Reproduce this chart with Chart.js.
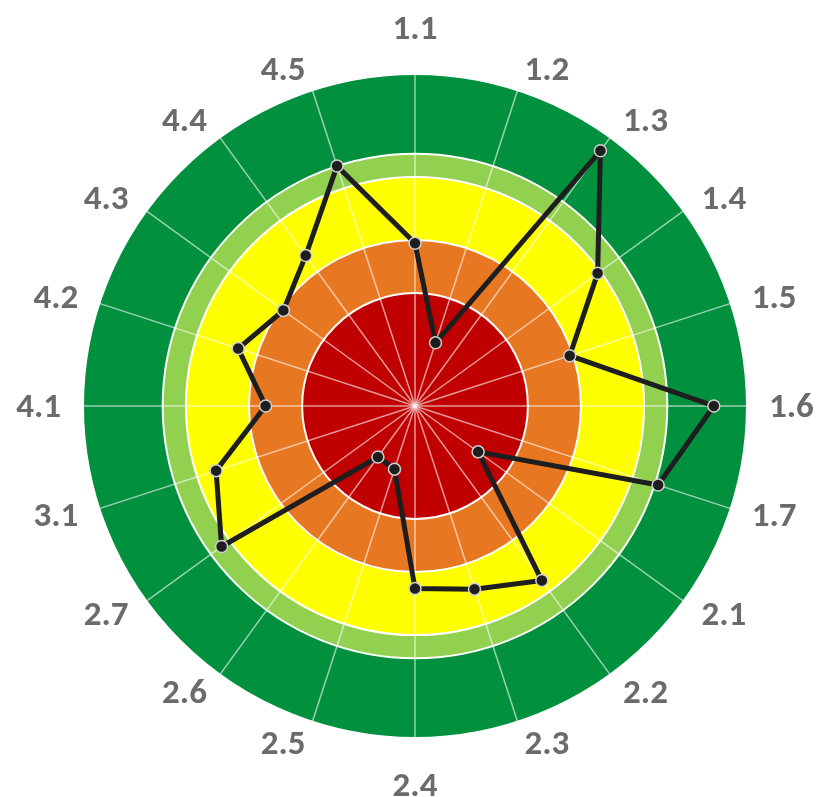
<!DOCTYPE html>
<html>
<head>
<meta charset="utf-8">
<script src="https://cdn.jsdelivr.net/npm/chart.js@4/dist/chart.umd.min.js"></script>
<style>
  html, body { margin: 0; padding: 0; background: #fff; }
  #wrap { width: 819px; height: 797px; }
</style>
</head>
<body>
<div id="wrap"><canvas id="myChart"></canvas></div>
<script>
const CATEGORIES = [
  '1.1', '1.2', '1.3', '1.4', '1.5', '1.6', '1.7',
  '2.1', '2.2', '2.3', '2.4', '2.5', '2.6', '2.7',
  '3.1',
  '4.1', '4.2', '4.3', '4.4', '4.5'
];
const SCORES = [
  49, 20, 95, 68, 49, 90, 77,
  23.5, 65, 58, 55, 20, 19, 72,
  63,
  45, 56, 49, 56, 76
];
// upper limit of each coloured ring
const BAND_LIMITS = [34, 50, 69, 76, 100];

const COLORS = {
  bands: ['#c00000', '#e87722', '#ffff00', '#92d050', '#00903e'],
  line: '#1e1e1e',
  label: '#6b6b6b'
};
const LABEL_SIZE = 35;

const bandsPlugin = {
  id: 'bands',
  beforeDraw(chart) {
    const scale = chart.scales.r;
    const c = chart.ctx;
    c.save();
    for (let i = BAND_LIMITS.length - 1; i >= 0; i--) {
      c.beginPath();
      c.arc(scale.xCenter, scale.yCenter, scale.getDistanceFromCenterForValue(BAND_LIMITS[i]), 0, Math.PI * 2);
      c.fillStyle = COLORS.bands[i];
      c.fill();
    }
    c.restore();
  }
};

// excel style labels: beside the spoke end, vertically centred (top/bottom ones above/below)
const spokeLabelsPlugin = {
  id: 'spokeLabels',
  afterDraw(chart) {
    const scale = chart.scales.r;
    const c = chart.ctx;
    c.save();
    c.font = 'bold ' + LABEL_SIZE + "px Carlito, 'Open Sans', sans-serif";
    c.fillStyle = COLORS.label;
    c.textBaseline = 'alphabetic';
    chart.data.labels.forEach((label, i) => {
      const p = scale.getPointPosition(i, scale.drawingArea + 22);
      const dx = p.x - scale.xCenter;
      let y = p.y;
      if (Math.abs(dx) < 1) {
        c.textAlign = 'center';
        y += (p.y < scale.yCenter ? -1 : 1) * LABEL_SIZE * 0.7;
      } else {
        c.textAlign = dx > 0 ? 'left' : 'right';
      }
      c.fillText(label, p.x, y + LABEL_SIZE * 0.316);
    });
    c.restore();
  }
};

let ctx = document.getElementById('myChart');

let myChart = new Chart(ctx, {
  type: 'radar',
  plugins: [bandsPlugin, spokeLabelsPlugin],
  data: {
    labels: CATEGORIES,
    datasets: [{
      data: SCORES,
      borderColor: COLORS.line,
      borderWidth: 5,
      fill: false,
      pointRadius: 6,
      pointBackgroundColor: COLORS.line,
      pointBorderColor: '#d0d0d0',
      pointBorderWidth: 1.5
    }]
  },
  options: {
    responsive: true,
    maintainAspectRatio: false,
    animation: false,
    layout: { padding: { left: 83, top: 74, right: 72, bottom: 59 } },
    plugins: {
      legend: { display: false },
      tooltip: { enabled: false }
    },
    scales: {
      r: {
        min: 0,
        max: 100,
        afterBuildTicks: (axis) => {
          axis.ticks = [0].concat(BAND_LIMITS).map(v => ({ value: v }));
        },
        ticks: { display: false },
        grid: { circular: true, color: '#ffffff', lineWidth: 2 },
        angleLines: { color: 'rgba(255,255,255,0.6)', lineWidth: 1.5 },
        pointLabels: { display: false }
      }
    }
  }
});
</script>
</body>
</html>
